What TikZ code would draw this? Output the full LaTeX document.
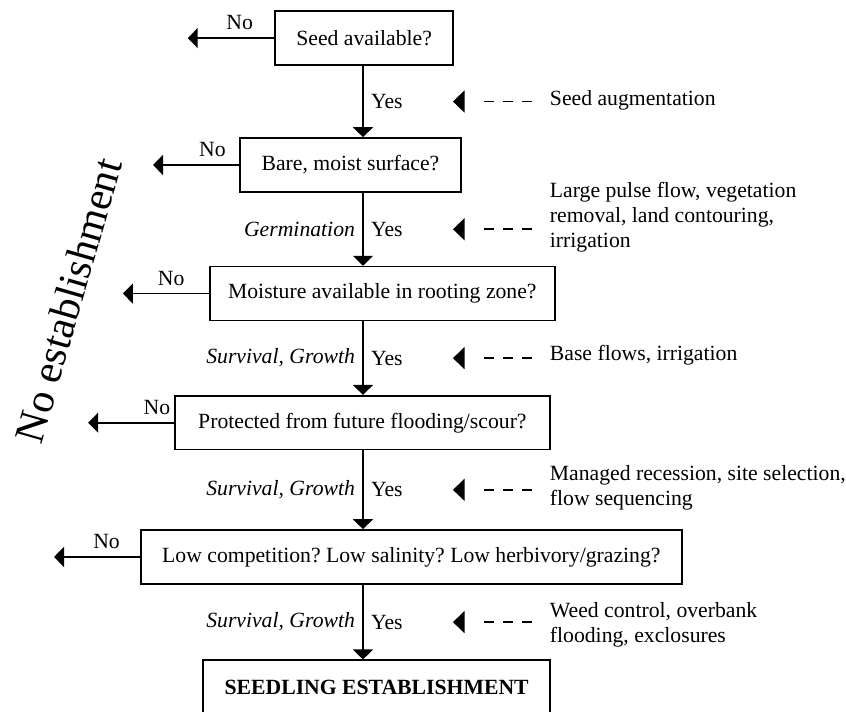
\documentclass[tikz,border=0pt]{standalone}
\usepackage{fontspec}
\setmainfont{Liberation Serif}
\usetikzlibrary{arrows.meta}

\begin{document}
\begin{tikzpicture}[>={Triangle[length=5pt,width=10pt]},line width=0.8pt]
	\fontsize{10.85}{12.5}\selectfont\frenchspacing
	\tikzstyle{box}=[rectangle,draw,minimum height=27pt]
	\tikzstyle{aid}=[-{Triangle[length=5.8pt,width=11pt]},dash pattern=on 5pt off 4.5pt on 5pt off 4.5pt on 5pt off 10pt,shorten <=5pt]
	\useasboundingbox (0,0) rectangle (14.87,12.51);
	\coordinate (col) at (6.38,0);

	\node[box,minimum width=89pt] (seed) at (6.40,11.84) {Seed available?};
	\node[box,minimum width=110.5pt] (bare) at (6.16,9.61) {Bare, moist surface?};
	\node[box,minimum width=172.5pt] (moist) at (6.72,7.35) {Moisture available in rooting zone?};
	\node[box,minimum width=187.5pt] (prot) at (6.37,5.08) {Protected from future flooding/scour?};
	\node[box,minimum width=270.5pt] (comp) at (7.23,2.72) {Low competition? Low salinity? Low herbivory/grazing?};
	\node[box,minimum width=173.5pt] (estab) at (6.62,0.43) {\textbf{SEEDLING ESTABLISHMENT}};

	\node[rotate=74,font=\fontsize{21}{25}\selectfont] (none) at (1.20,7.23) {No establishment};

	\coordinate (n1) at (3.30,11.84);
	\coordinate (n2) at (2.69,9.61);
	\coordinate (n3) at (2.16,7.35);
	\coordinate (n4) at (1.55,5.08);
	\coordinate (n5) at (0.95,2.72);
	\draw[->] (seed.west) -- node[above,pos=0.4] {No} (n1);
	\draw[->] (bare.west) -- node[above,pos=0.31] {No} (n2);
	\draw[->] (moist.west) -- node[above,pos=0.44] {No} (n3);
	\draw[->] (prot.west) -- node[above,pos=0.2] {No} (n4);
	\draw[->] (comp.west) -- node[above,pos=0.39] {No} (n5);

	\draw[->] (seed.south -| col) -- node[right] {Yes} coordinate (m1) (bare.north -| col);
	\draw[->] (bare.south -| col) -- node[right] {Yes} node[left] {\textit{Germination}} coordinate (m2) (moist.north -| col);
	\draw[->] (moist.south -| col) -- node[right] {Yes} node[left] {\textit{Survival, Growth}} coordinate (m3) (prot.north -| col);
	\draw[->] (prot.south -| col) -- node[right] {Yes} node[left] {\textit{Survival, Growth}} coordinate (m4) (comp.north -| col);
	\draw[->] (comp.south -| col) -- node[right] {Yes} node[left] {\textit{Survival, Growth}} coordinate (m5) (estab.north -| col);

	\node[anchor=west,align=left] (t1) at (9.525,10.755) {Seed augmentation};
	\node[anchor=west,align=left] (t2) at (9.525,8.70) {Large pulse flow, vegetation\\removal, land contouring,\\irrigation};
	\node[anchor=west,align=left] (t3) at (9.525,6.27) {Base flows, irrigation};
	\node[anchor=west,align=left] (t4) at (9.525,3.93) {Managed recession, site selection,\\flow sequencing};
	\node[anchor=west,align=left] (t5) at (9.525,1.53) {Weed control, overbank\\flooding, exclosures};

	\draw[aid] (t1.west |- m1) -- ([xshift=45pt]m1);
	\draw[aid] (t2.west |- m2) -- ([xshift=45pt]m2);
	\draw[aid] (t3.west |- m3) -- ([xshift=45pt]m3);
	\draw[aid] (t4.west |- m4) -- ([xshift=45pt]m4);
	\draw[aid] (t5.west |- m5) -- ([xshift=45pt]m5);
\end{tikzpicture}
\end{document}
